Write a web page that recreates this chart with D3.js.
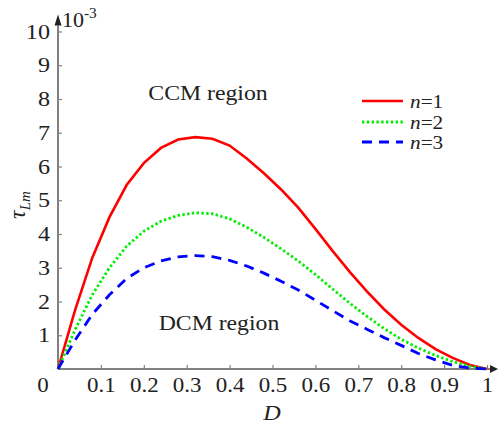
<!DOCTYPE html>
<html>
<head>
<meta charset="utf-8">
<script src="https://cdn.jsdelivr.net/npm/d3@7/dist/d3.min.js"></script>
<style>
body{margin:0;background:#fff;}
svg text{font-family:"Liberation Serif","Times New Roman",serif;fill:#222;}
</style>
</head>
<body>
<div id="chart"></div>
<script>
// duty ratio D, step 0.04
var duty = [0,0.04,0.08,0.12,0.16,0.2,0.24,0.28,0.32,0.36,0.4,0.44,0.48,0.52,0.56,0.6,0.64,0.68,0.72,0.76,0.8,0.84,0.88,0.92,0.96,1];
// tau_Lm values in units of 1e-3
var tauN1 = [0,1.75,3.3,4.5,5.45,6.1,6.55,6.8,6.87,6.82,6.62,6.24,5.8,5.32,4.78,4.15,3.5,2.88,2.3,1.77,1.31,0.92,0.59,0.33,0.12,0];
var tauN2 = [0,1.17,2.2,3.0,3.64,4.08,4.38,4.55,4.63,4.6,4.45,4.2,3.9,3.56,3.2,2.8,2.37,1.95,1.56,1.2,0.88,0.62,0.4,0.22,0.08,0];
var tauN3 = [0,0.86,1.62,2.2,2.68,3.0,3.2,3.32,3.36,3.33,3.22,3.05,2.84,2.6,2.34,2.04,1.73,1.43,1.18,0.93,0.7,0.46,0.27,0.11,0.03,0];
var seriesNames = ["1","2","3"];
var xTicks = [0.1,0.2,0.3,0.4,0.5,0.6,0.7,0.8,0.9,1];
var yTicks = [1,2,3,4,5,6,7,8,9,10];

var W = 500, H = 430;
var svg = d3.select("#chart").append("svg").attr("width", W).attr("height", H);

var x = d3.scaleLinear().domain([0,1]).range([58,487]);
var y = d3.scaleLinear().domain([0,10]).range([369,31.5]);
var axisColor = "#808080";
var sx = "scale(1.15,1)";

// x axis ticks + labels
var gx = svg.append("g").attr("transform","translate(0,"+y(0)+")")
	.call(d3.axisBottom(x).tickValues(xTicks).tickSize(-4).tickSizeOuter(0).tickPadding(9)
		.tickFormat(function(d){ return d===1 ? "1" : d3.format(".1f")(d); }));
gx.select(".domain").remove();
gx.selectAll(".tick line").attr("stroke",axisColor).attr("stroke-width",1.2);
gx.selectAll(".tick text").attr("font-size",20).attr("fill","#222").attr("transform",sx)
	.style("font-family","Liberation Serif");

// y axis ticks + labels
var gy = svg.append("g").attr("transform","translate("+x(0)+",0)")
	.call(d3.axisLeft(y).tickValues(yTicks).tickSize(-4).tickSizeOuter(0).tickPadding(7));
gy.select(".domain").remove();
gy.selectAll(".tick line").attr("stroke",axisColor).attr("stroke-width",1.2);
gy.selectAll(".tick text").attr("font-size",21).attr("fill","#222").attr("transform",sx)
	.style("font-family","Liberation Serif");

// axis lines with arrows
svg.append("line").attr("x1",x(0)).attr("x2",x(1)+4).attr("y1",y(0)).attr("y2",y(0))
	.attr("stroke",axisColor).attr("stroke-width",2);
svg.append("line").attr("x1",x(0)).attr("x2",x(0)).attr("y1",y(0)).attr("y2",y(10)-6)
	.attr("stroke",axisColor).attr("stroke-width",2);
svg.append("path").attr("d","M"+(x(1)+3)+","+(y(0)-4)+" L"+(x(1)+11)+","+y(0)+" L"+(x(1)+3)+","+(y(0)+4)+"Z")
	.attr("fill","#222");
svg.append("path").attr("d","M"+(x(0)-3.5)+","+(y(10)-6)+" L"+x(0)+","+(y(10)-17)+" L"+(x(0)+3.5)+","+(y(10)-6)+"Z")
	.attr("fill","#222");

// origin label
svg.append("text").attr("transform","translate(43,392) "+sx).attr("text-anchor","middle")
	.attr("font-size",20).text("0");

// exponent
var ex = svg.append("text").attr("transform","translate(62,27) scale(1.1,1)").attr("font-size",20);
ex.append("tspan").text("10");
ex.append("tspan").attr("dy",-9).attr("font-size",14).text("-3");

// axis titles
svg.append("text").attr("transform","translate(272,420) scale(1.1,1)").attr("text-anchor","middle")
	.attr("font-size",22).attr("font-style","italic").text("D");
var yl = svg.append("text").attr("transform","translate(25,205) rotate(-90)").attr("text-anchor","middle")
	.attr("font-size",24).attr("font-style","italic");
yl.append("tspan").text("\u03c4");
yl.append("tspan").attr("dy",5).attr("font-size",15).text("Lm");

// region labels
svg.append("text").attr("transform","translate(208,100) scale(1.08,1)").attr("text-anchor","middle")
	.attr("font-size",22).text("CCM region");
svg.append("text").attr("transform","translate(219,330) scale(1.08,1)").attr("text-anchor","middle")
	.attr("font-size",22).text("DCM region");

// curves
var styles = [
	{data:tauN1, color:"#ff0000", dash:null, w:2.6},
	{data:tauN2, color:"#00ee00", dash:"2.4,2.4", w:2.8},
	{data:tauN3, color:"#0000ff", dash:"10,7", w:2.8}
];
var line = d3.line().x(function(d){return x(d[0]);}).y(function(d){return y(d[1]);});
styles.forEach(function(s){
	svg.append("path")
		.datum(duty.map(function(dv,i){ return [dv, s.data[i]]; }))
		.attr("d", line)
		.attr("fill","none")
		.attr("stroke", s.color)
		.attr("stroke-width", s.w)
		.attr("stroke-dasharray", s.dash);
});

// legend
var legY = [101,122,142];
styles.forEach(function(s,i){
	svg.append("line").attr("x1",362).attr("x2",403).attr("y1",legY[i]).attr("y2",legY[i])
		.attr("stroke",s.color).attr("stroke-width",s.w).attr("stroke-dasharray",s.dash);
	var t = svg.append("text").attr("transform","translate(410,"+(legY[i]+6.5)+") scale(1.25,1.05)").attr("font-size",17);
	t.append("tspan").attr("font-style","italic").text("n");
	t.append("tspan").text("=" + seriesNames[i]);
});
</script>
</body>
</html>
